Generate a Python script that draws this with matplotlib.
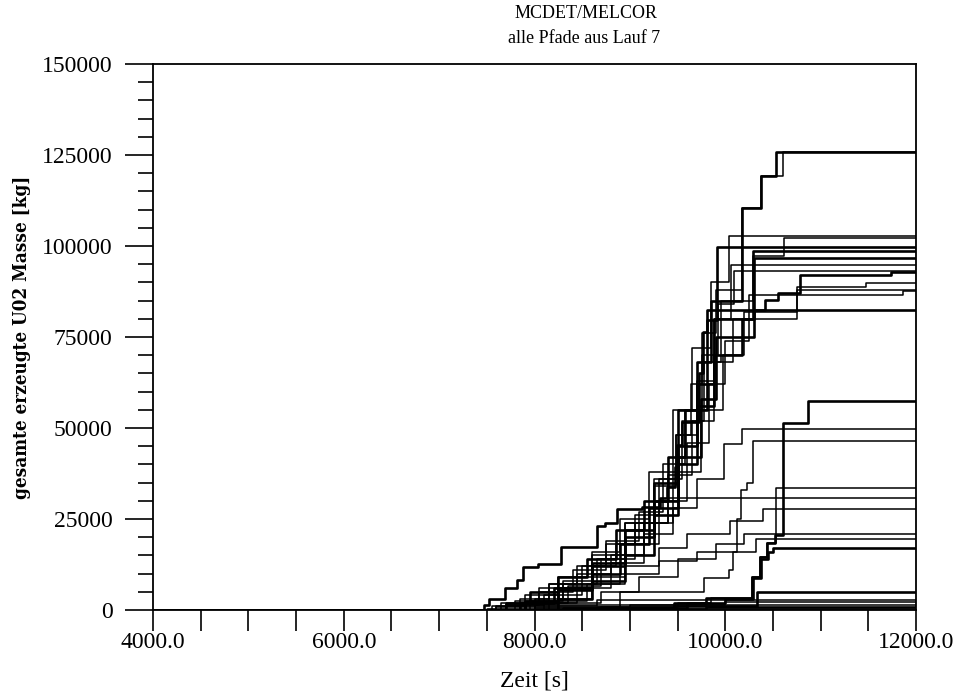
import matplotlib.pyplot as plt
from matplotlib.ticker import MultipleLocator, FormatStrFormatter

# Pfade aus Lauf 7: Zeitpunkte der Stufen [s] und Masse nach der Stufe [kg]
zeiten = [
    [7700, 7950, 8250, 8550, 8850, 9150, 9400, 9580, 9700, 9850, 10180, 10370, 10530],
    [7850, 8150, 8450, 8750, 9050, 9300, 9480, 9640, 9760, 9900, 10180, 10370, 10605],
    [8000, 8300, 8600, 8900, 9200, 9450, 9650, 9850, 10040],
    [7950, 8300, 8650, 8950, 9250, 9550, 9780, 9950, 10290, 10620],
    [7470, 7520, 7690, 7815, 7880, 8040, 8280, 8655, 8740, 8865, 9130, 9315, 9390,
     9470, 9495, 9545, 9725, 9770, 9810, 9915],
    [7900, 8250, 8600, 8950, 9250, 9500, 9700, 9880, 10290],
    [7900, 8250, 8600, 8900, 9200, 9500, 9750, 9900, 10300],
    [7600, 7900, 8250, 8600, 8950, 9250, 9480, 9700, 9880, 10060],
    [7700, 8050, 8400, 8750, 9100, 9350, 9580, 9760, 9920, 10090],
    [8250, 8600, 8950, 9250, 9500, 9700, 9880, 10180, 10300, 10420, 10550, 10780, 11740],
    [8100, 8450, 8800, 9150, 9450, 9750, 9980, 10200, 10750, 11480],
    [8000, 8350, 8700, 9050, 9400, 9650, 9880, 10080, 10750],
    [8250, 8600, 8950, 9300, 9600, 9830, 10000, 10250, 11860],
    [7850, 8200, 8600, 8950, 9250, 9500, 9810],
    [8650, 9460, 9800, 10280, 10360, 10440, 10520, 10600, 10870],
    [8700, 9500, 9850, 10280, 10360, 10440, 10530],
    [8800, 9600, 10000, 10290, 10370, 10450, 10500],
    [7650, 8050, 8450, 8800, 9150, 9450, 9700, 9990, 10175],
    [8000, 8900, 9780, 10040, 10080, 10120, 10170, 10230, 10290],
    [7800, 8150, 8500, 8850, 9150, 9400],
    [8150, 8550, 8950, 9300, 9600, 10050, 10400],
    [7700, 8100, 8500, 8900, 9300, 9700, 10320],
    [8250, 8700, 9100, 9500, 9900, 10200],
    [8300, 9460, 10330],
    [7550, 8650],
    [8000, 9000],
    [7500, 9800],
    [8500],
    [7600, 8900, 10000],
]
massen = [
    [2000, 5000, 9000, 14000, 22000, 30000, 42000, 55000, 68000, 85000, 110400, 119200, 125800],
    [3000, 7000, 12000, 18000, 26000, 36000, 48000, 62000, 76000, 88000, 110400, 119200, 125800],
    [3000, 8000, 16000, 25000, 38000, 55000, 72000, 90000, 102700],
    [2500, 7000, 14000, 24000, 36000, 52000, 68000, 85000, 97200, 102200],
    [1500, 3000, 6000, 8200, 11800, 12600, 17300, 23000, 23900, 27700, 28300, 30800, 33800,
     39300, 45300, 51600, 65100, 76400, 79700, 99800],
    [2500, 6000, 12000, 20000, 30000, 45000, 62000, 80000, 98700],
    [2000, 5500, 10000, 18000, 28000, 42000, 58000, 75000, 96700],
    [1000, 4000, 9000, 15000, 24000, 34000, 48000, 63000, 80000, 94800],
    [1500, 5000, 11000, 19000, 27000, 40000, 55000, 70000, 84000, 93100],
    [3000, 8000, 15000, 26000, 40000, 56000, 70000, 80000, 82500, 85200, 87200, 92000, 92800],
    [2000, 6000, 13000, 24000, 38000, 55000, 70000, 82000, 88800, 89800],
    [2000, 6500, 14000, 24000, 37000, 52000, 68000, 80000, 88000],
    [3000, 9000, 18000, 30000, 46000, 62000, 74000, 86600, 87600],
    [2000, 6000, 13000, 22000, 35000, 55000, 82500],
    [800, 2000, 3300, 9000, 14500, 18500, 20500, 51400, 57500],
    [800, 2000, 3300, 9000, 14500, 18500, 33500],
    [500, 1800, 3000, 8800, 14000, 16000, 17000],
    [2000, 6000, 10000, 15000, 21000, 28000, 36000, 45600, 49600],
    [1500, 5000, 8800, 11000, 16000, 25000, 33000, 35000, 46400],
    [2500, 7000, 12000, 18000, 24000, 30800],
    [2500, 7000, 12000, 17000, 21000, 24400, 27700],
    [1500, 4000, 7000, 10000, 13500, 16000, 19600],
    [2000, 5000, 9000, 14000, 18000, 21000],
    [600, 1200, 5000],
    [1200, 2800],
    [500, 1400],
    [300, 800],
    [300],
    [700, 1500, 2200],
]

t_start, t_end = 4000, 12000

# Linienstaerken (dick/duenn) je Pfad
breite = [1.9, 1.1, 1.1, 1.1, 1.9, 1.9, 1.9, 1.1, 1.1, 1.9, 1.1, 1.1, 1.1, 1.9,
          1.9, 1.1, 1.9, 1.1, 1.1, 1.1, 1.1, 1.1, 1.1, 1.9, 1.1, 1.1, 1.9, 1.1, 1.1]

plt.rcParams['font.family'] = ['Liberation Serif', 'DejaVu Serif']

fig = plt.figure(figsize=(9.54, 6.96), dpi=100)
ax = fig.add_axes([0.1604, 0.1236, 0.7998, 0.7844])

for t, m, lw in zip(zeiten, massen, breite):
    xs = [t_start] + t + [t_end]
    ys = [0] + m + [m[-1]]
    ax.plot(xs, ys, color='black', lw=lw, drawstyle='steps-post')

ax.set_xlim(t_start, t_end)
ax.set_ylim(0, 150000)

ax.xaxis.set_major_locator(MultipleLocator(2000))
ax.xaxis.set_minor_locator(MultipleLocator(500))
ax.xaxis.set_major_formatter(FormatStrFormatter('%.1f'))
ax.yaxis.set_major_locator(MultipleLocator(25000))
ax.yaxis.set_minor_locator(MultipleLocator(5000))

ax.tick_params(axis='x', which='both', direction='out', length=15, width=1.2,
               labelsize=17, pad=1)
ax.tick_params(axis='y', which='major', direction='out', length=20, width=1.2,
               labelsize=17, pad=9)
ax.tick_params(axis='y', which='minor', direction='out', length=11, width=1.2)
for s in ax.spines.values():
    s.set_linewidth(1.3)

fig.text(0.614, 0.980, 'MCDET/MELCOR', fontsize=13, ha='center', va='center')
fig.text(0.612, 0.945, 'alle Pfade aus Lauf 7', fontsize=13, ha='center', va='center')
ax.set_xlabel('Zeit [s]', fontsize=17, labelpad=12.5)
ax.set_ylabel('gesamte erzeugte U02 Masse [kg]', fontsize=13.5, labelpad=8,
              family=['DejaVu Serif'], fontweight='bold', fontstretch='condensed')

fig.savefig('out.png', dpi=100)
